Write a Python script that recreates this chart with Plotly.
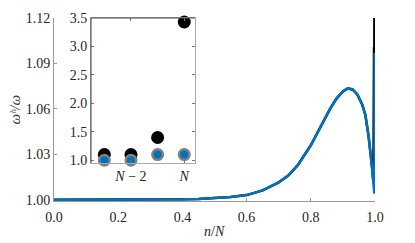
import plotly.graph_objects as go

# ---- data ----
n_over_N = [0.0, 0.1, 0.2, 0.3, 0.4, 0.45, 0.5, 0.55, 0.6, 0.65, 0.7, 0.73,
            0.76, 0.8, 0.83, 0.86, 0.88, 0.9, 0.915, 0.93, 0.945, 0.96, 0.97,
            0.98, 0.99, 0.995, 0.997, 0.998, 0.999, 1.0]
ratio_blue = [1.0, 1.0, 1.0, 1.0, 1.0003, 1.0006, 1.0011, 1.0019, 1.0031, 1.0062,
              1.0115, 1.016, 1.023, 1.036, 1.048, 1.060, 1.0668, 1.0715, 1.0735,
              1.0728, 1.0695, 1.063, 1.056, 1.042, 1.023, 1.012, 1.006, 1.004,
              1.096, 1.096]
ratio_black = [1.0, 1.0, 1.0, 1.0, 1.0003, 1.0006, 1.0011, 1.0019, 1.0031, 1.0062,
               1.0115, 1.016, 1.023, 1.036, 1.048, 1.060, 1.0668, 1.0715, 1.0735,
               1.0728, 1.0695, 1.063, 1.056, 1.042, 1.023, 1.012, 1.10, 1.10,
               1.40, 3.43]

inset_idx = [1, 2, 3, 4]            # N-3, N-2, N-1, N
inset_black = [1.10, 1.10, 1.40, 3.43]
inset_blue = [1.00, 1.00, 1.10, 1.10]
inset_tickvals = [2, 4]
inset_ticktext = ["<i>N</i> − 2", "<i>N</i>"]

main_xticks = [0.0, 0.2, 0.4, 0.6, 0.8, 1.0]
main_yticks = [1.00, 1.03, 1.06, 1.09, 1.12]
inset_yticks = [1.0, 1.5, 2.0, 2.5, 3.0, 3.5]

BLUE = "#0072BD"
FONT = "Liberation Serif, DejaVu Serif, serif"
TXT = "#262626"
AX = "#999999"

fig = go.Figure()
fig.add_trace(go.Scatter(x=n_over_N, y=ratio_black, mode="lines",
                         line=dict(color="black", width=2.5), xaxis="x", yaxis="y"))
fig.add_trace(go.Scatter(x=n_over_N, y=ratio_blue, mode="lines",
                         line=dict(color=BLUE, width=2.5), xaxis="x", yaxis="y"))
fig.add_trace(go.Scatter(x=inset_idx, y=inset_black, mode="markers",
                         marker=dict(color="black", size=13, line=dict(width=0)),
                         xaxis="x2", yaxis="y2", cliponaxis=False))
fig.add_trace(go.Scatter(x=inset_idx, y=inset_blue, mode="markers",
                         marker=dict(color=BLUE, size=10.5, line=dict(width=2.5, color="#808080")),
                         xaxis="x2", yaxis="y2", cliponaxis=False))

tickfont = dict(family=FONT, size=14, color=TXT)

# page body has an 8px default margin: size the figure so the plot area lands
# where the reference has it inside the 415x243 window
fig.update_layout(
    width=407, height=235,
    margin=dict(l=46, r=40, t=10, b=41.5),
    paper_bgcolor="white", plot_bgcolor="white",
    showlegend=False,
    font=dict(family=FONT, size=14, color=TXT),
    xaxis=dict(domain=[0, 1], range=[0, 1], tickvals=main_xticks, tickformat=".1f",
               ticks="inside", ticklen=3, tickcolor=AX, showline=True, linecolor=AX,
               linewidth=1, showgrid=False, zeroline=False, tickfont=tickfont,
               ticklabelstandoff=3, automargin=False, layer="below traces"),
    yaxis=dict(domain=[0, 1], range=[0.9992, 1.12], tickvals=main_yticks, tickformat=".2f",
               ticks="inside", ticklen=3, tickcolor=AX, showline=True, linecolor=AX,
               linewidth=1, showgrid=False, zeroline=False, tickfont=tickfont,
               automargin=False, layer="below traces"),
    xaxis2=dict(domain=[0.1153, 0.439], anchor="y2", range=[0.5, 4.4],
                tickvals=inset_tickvals, ticktext=inset_ticktext,
                ticks="inside", ticklen=3, tickcolor="#777", showline=True,
                linecolor="#aaaaaa", linewidth=1, mirror="ticks", showgrid=False,
                zeroline=False, tickfont=tickfont, automargin=False),
    yaxis2=dict(domain=[0.207, 1.0], anchor="x2", range=[0.95, 3.5],
                tickvals=inset_yticks, tickformat=".1f",
                ticks="inside", ticklen=3, tickcolor="#777", showline=True,
                linecolor="#aaaaaa", linewidth=1, mirror="ticks", showgrid=False,
                zeroline=False, tickfont=tickfont, automargin=False),
)

# inset background and darker left/top frame lines
fig.add_shape(type="rect", xref="x2 domain", yref="y2 domain", x0=0, x1=1, y0=0, y1=1,
              fillcolor="white", line=dict(width=0), layer="below")
fig.add_shape(type="line", xref="x2 domain", yref="y2 domain", x0=0, x1=0, y0=0, y1=1,
              line=dict(color="#444444", width=1))
fig.add_shape(type="line", xref="x2 domain", yref="y2 domain", x0=0, x1=1, y0=1, y1=1,
              line=dict(color="#444444", width=1))

fig.add_annotation(text="<i>n</i>/<i>N</i>", xref="paper", yref="paper", x=0.5, y=0,
                   yshift=-30, yanchor="middle", showarrow=False,
                   font=dict(family=FONT, size=14, color=TXT))
fig.add_annotation(text="<i>ωʰ/ω</i>", xref="paper", yref="paper",
                   x=0, y=0.5, xshift=-40, xanchor="center", textangle=-90, showarrow=False,
                   font=dict(family=FONT, size=15, color="#404040"))

fig.write_html("out.html")
